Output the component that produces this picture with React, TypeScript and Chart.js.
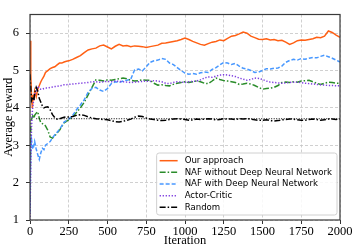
import React, { useEffect, useRef } from "react";
import { Chart, registerables } from "chart.js";
Chart.register(...registerables);

// x positions of the sampled points (iterations)
const iterations = [
  0, 5, 10, 15, 20, 25, 30,
  40, 50, 60, 70, 80, 90, 100,
  115, 130, 145, 160, 175, 190, 205, 220, 235, 250,
  275, 300, 325, 350, 375, 400, 425, 450, 475, 500,
  525, 550, 575, 600, 625, 650, 675, 700, 725, 750,
  775, 800, 825, 850, 875, 900, 925, 950, 975, 1000,
  1025, 1050, 1075, 1100, 1125, 1150, 1175, 1200, 1225, 1250,
  1275, 1300, 1325, 1350, 1375, 1400, 1425, 1450, 1475, 1500,
  1525, 1550, 1575, 1600, 1625, 1650, 1675, 1700, 1725, 1750,
  1775, 1800, 1825, 1850, 1875, 1900, 1925, 1950, 1975, 2000,
];

const ourApproach = [
  5.8, 4.9, 4.3, 4.0, 4.35, 4.2, 4.45,
  4.3, 4.5, 4.6, 4.7, 4.78, 4.85, 4.95,
  5.0, 5.05, 5.08, 5.1, 5.15, 5.2, 5.2, 5.23, 5.25, 5.26,
  5.3, 5.35, 5.4, 5.48, 5.55, 5.58, 5.6, 5.66, 5.68, 5.63,
  5.58, 5.65, 5.7, 5.66, 5.67, 5.64, 5.66, 5.65, 5.64, 5.62,
  5.64, 5.66, 5.68, 5.73, 5.74, 5.76, 5.78, 5.8, 5.83, 5.87,
  5.83, 5.78, 5.74, 5.7, 5.68, 5.72, 5.76, 5.78, 5.82, 5.8,
  5.86, 5.92, 5.94, 5.98, 6.03, 6.0, 5.92, 5.88, 5.84, 5.83,
  5.85, 5.82, 5.83, 5.8, 5.81, 5.76, 5.7, 5.74, 5.8, 5.82,
  5.81, 5.83, 5.85, 5.89, 5.88, 5.92, 6.06, 6.02, 5.95, 5.89,
];

const nafWithoutDnn = [
  1.5, 3.55, 3.7, 3.75, 3.82, 3.72, 3.8,
  3.86, 3.9, 3.72, 3.6, 3.58, 3.56, 3.52,
  3.4, 3.22, 3.19, 3.25, 3.33, 3.4, 3.5, 3.6, 3.64, 3.68,
  3.75, 3.88, 4.0, 4.15, 4.35, 4.55, 4.75, 4.74, 4.72, 4.75,
  4.74, 4.76, 4.78, 4.8, 4.78, 4.74, 4.72, 4.73, 4.75, 4.74,
  4.74, 4.66, 4.61, 4.62, 4.6, 4.59, 4.63, 4.66, 4.68, 4.7,
  4.68, 4.7, 4.72, 4.7, 4.66, 4.65, 4.72, 4.8, 4.76, 4.73,
  4.72, 4.7, 4.68, 4.63, 4.64, 4.66, 4.64, 4.6, 4.55, 4.5,
  4.52, 4.53, 4.55, 4.6, 4.68, 4.69, 4.68, 4.7, 4.69, 4.72,
  4.73, 4.74, 4.7, 4.66, 4.63, 4.66, 4.69, 4.68, 4.66, 4.66,
];

const nafWithDnn = [
  1.2, 3.0, 3.15, 2.95, 2.9, 3.0, 3.1,
  2.9, 2.75, 2.62, 2.8, 2.92, 2.88, 3.0,
  3.05, 3.1, 3.2, 3.28, 3.35, 3.42, 3.52, 3.62, 3.66, 3.7,
  3.8, 3.95, 4.08, 4.22, 4.42, 4.52, 4.55, 4.48, 4.44, 4.52,
  4.65, 4.7, 4.68, 4.72, 4.74, 4.77, 5.02, 5.04, 4.99, 5.1,
  5.22, 5.26, 5.28, 5.32, 5.3, 5.2, 5.16, 5.08, 5.0, 4.93,
  4.9, 4.92, 4.9, 4.94, 4.96, 4.95, 5.03, 5.08, 5.15, 5.22,
  5.2, 5.16, 5.19, 5.12, 5.06, 5.04, 5.0, 4.95, 4.96, 5.0,
  5.05, 5.04, 5.06, 5.07, 5.12, 5.22, 5.27, 5.3, 5.28, 5.32,
  5.3, 5.33, 5.35, 5.34, 5.38, 5.41, 5.37, 5.33, 5.28, 5.23,
];

const actorCritic = [
  1.0, 2.5, 3.5, 3.9, 4.1, 4.25, 4.35,
  4.46, 4.58, 4.52, 4.5, 4.5, 4.52, 4.53,
  4.53, 4.55, 4.56, 4.57, 4.58, 4.59, 4.6, 4.62, 4.62, 4.63,
  4.64, 4.65, 4.66, 4.67, 4.68, 4.7, 4.7, 4.69, 4.7, 4.71,
  4.7, 4.72, 4.71, 4.7, 4.69, 4.68, 4.69, 4.7, 4.71, 4.72,
  4.71, 4.73, 4.72, 4.7, 4.66, 4.65, 4.68, 4.7, 4.69, 4.68,
  4.7, 4.71, 4.72, 4.75, 4.8, 4.83, 4.82, 4.85, 4.88, 4.89,
  4.88, 4.86, 4.84, 4.8, 4.77, 4.74, 4.76, 4.8, 4.79, 4.76,
  4.72, 4.69, 4.68, 4.67, 4.66, 4.67, 4.68, 4.69, 4.69, 4.68,
  4.66, 4.65, 4.64, 4.63, 4.62, 4.61, 4.6, 4.6, 4.59, 4.59,
];

const randomPolicy = [
  4.9, 4.5, 4.2, 4.25, 4.3, 4.2, 4.4,
  4.55, 4.45, 4.25, 4.15, 4.05, 4.0, 4.02,
  4.03, 3.95, 3.82, 3.74, 3.7, 3.71, 3.73, 3.75, 3.76, 3.76,
  3.77, 3.8, 3.82, 3.8, 3.76, 3.73, 3.71, 3.7, 3.69, 3.68,
  3.66, 3.63, 3.62, 3.64, 3.67, 3.7, 3.75, 3.78, 3.77, 3.73,
  3.7, 3.69, 3.67, 3.66, 3.67, 3.69, 3.7, 3.71, 3.7, 3.69,
  3.67, 3.68, 3.7, 3.69, 3.7, 3.71, 3.7, 3.68, 3.69, 3.71,
  3.7, 3.7, 3.69, 3.71, 3.7, 3.71, 3.7, 3.68, 3.67, 3.67,
  3.68, 3.66, 3.65, 3.66, 3.68, 3.69, 3.7, 3.7, 3.68, 3.67,
  3.67, 3.69, 3.7, 3.69, 3.67, 3.68, 3.7, 3.7, 3.69, 3.7,
];

// horizontal dotted reference line of the random policy
const randomBaseline = 3.71;
const randomBaselineRange = [40, 2000];

const seriesLabels = [
  "Our approach",
  "NAF without Deep Neural Network",
  "NAF with Deep Neural Network",
  "Actor-Critic",
  "Random",
];

const xTicks = [0, 250, 500, 750, 1000, 1250, 1500, 1750, 2000];
const yTicks = [1, 2, 3, 4, 5, 6];

const SERIF = '"Liberation Serif", "Times New Roman", serif';
const SANS = '"DejaVu Sans", sans-serif';

const framePlugin = {
  id: "frame",
  afterDatasetsDraw(chart: any) {
    const { ctx, chartArea: a } = chart;
    ctx.save();
    ctx.strokeStyle = "#3a3a3a";
    ctx.lineWidth = 1.2;
    ctx.setLineDash([]);
    ctx.strokeRect(a.left, a.top, a.right - a.left, a.bottom - a.top);
    ctx.restore();
  },
};

const legendPlugin = {
  id: "boxLegend",
  afterDraw(chart: any) {
    const { ctx, chartArea: a } = chart;
    const items = chart.data.datasets.filter((d: any) => !d.hideInLegend);
    ctx.save();
    ctx.font = `8.6px ${SANS}`;
    const maxW = Math.max(...items.map((d: any) => ctx.measureText(d.label).width));
    const rowH = 11.65;
    const w = 28 + maxW + 5;
    const h = rowH * (items.length - 1) + 15.4;
    const x = a.right - 3 - w;
    const y = a.bottom - 5 - h;
    const r = 2.5;
    ctx.beginPath();
    ctx.moveTo(x + r, y);
    ctx.lineTo(x + w - r, y);
    ctx.quadraticCurveTo(x + w, y, x + w, y + r);
    ctx.lineTo(x + w, y + h - r);
    ctx.quadraticCurveTo(x + w, y + h, x + w - r, y + h);
    ctx.lineTo(x + r, y + h);
    ctx.quadraticCurveTo(x, y + h, x, y + h - r);
    ctx.lineTo(x, y + r);
    ctx.quadraticCurveTo(x, y, x + r, y);
    ctx.closePath();
    ctx.fillStyle = "rgba(255,255,255,0.85)";
    ctx.fill();
    ctx.strokeStyle = "#d0d0d0";
    ctx.lineWidth = 1;
    ctx.stroke();
    items.forEach((d: any, i: number) => {
      const cy = y + 7.7 + i * rowH;
      ctx.beginPath();
      ctx.strokeStyle = d.borderColor;
      ctx.lineWidth = d.borderWidth;
      ctx.setLineDash(d.borderDash || []);
      ctx.moveTo(x + 3, cy);
      ctx.lineTo(x + 21, cy);
      ctx.stroke();
      ctx.setLineDash([]);
      ctx.fillStyle = "#000";
      ctx.textBaseline = "middle";
      ctx.textAlign = "left";
      ctx.fillText(d.label, x + 28, cy);
    });
    ctx.restore();
  },
};

function toPoints(values: number[]) {
  return iterations.map((it, i) => ({ x: it, y: values[i] }));
}

export default function App() {
  const ref = useRef<HTMLCanvasElement>(null);
  useEffect(() => {
    document.body.style.margin = "0";
    const canvas = ref.current!;
    const tickFont = { family: SERIF, size: 12.5 };
    const common = { pointRadius: 0, tension: 0, fill: false, borderWidth: 1.5 };
    const chart = new Chart(canvas, {
      type: "line",
      data: {
        datasets: [
          { ...common, label: seriesLabels[0], data: toPoints(ourApproach), borderColor: "#ff6014", order: 6 },
          { ...common, label: seriesLabels[1], data: toPoints(nafWithoutDnn), borderColor: "#2a8c2a", borderDash: [6, 2, 1.5, 2], order: 5 },
          { ...common, label: seriesLabels[2], data: toPoints(nafWithDnn), borderColor: "#4898ff", borderDash: [4, 2], order: 4 },
          { ...common, label: seriesLabels[3], data: toPoints(actorCritic), borderColor: "#7f3fe0", borderDash: [1.3, 1.7], order: 3 },
          { ...common, label: seriesLabels[4], data: toPoints(randomPolicy), borderColor: "#000000", borderDash: [6, 2, 1.5, 2], order: 1 },
          {
            ...common,
            label: "Random (mean)",
            hideInLegend: true,
            data: randomBaselineRange.map((x) => ({ x, y: randomBaseline })),
            borderColor: "#000000",
            borderWidth: 1,
            borderDash: [1, 1.5],
            order: 2,
          } as any,
        ],
      },
      options: {
        animation: false,
        responsive: false,
        maintainAspectRatio: false,
        layout: { padding: { left: 0, right: 20, top: 5, bottom: 0 } },
        plugins: { legend: { display: false }, tooltip: { enabled: false } },
        scales: {
          x: {
            type: "linear",
            min: 0,
            max: 2000,
            afterBuildTicks: (s: any) => {
              s.ticks = xTicks.map((v) => ({ value: v }));
            },
            afterFit: (s: any) => {
              s.height = 29;
            },
            grid: { color: "#c4c4c4", lineWidth: 0.8, tickLength: 4, tickColor: "#333", tickWidth: 1, tickBorderDash: [] },
            border: { display: false, dash: [3, 2] },
            ticks: {
              font: tickFont,
              color: "#000",
              padding: 0,
              maxRotation: 0,
              autoSkip: false,
              callback: (v: any) => String(v),
            },
            title: { display: true, text: "Iteration", font: tickFont, color: "#000", padding: { top: 0, bottom: 1 } },
          },
          y: {
            type: "linear",
            min: 1,
            max: 6.5,
            afterBuildTicks: (s: any) => {
              s.ticks = yTicks.map((v) => ({ value: v }));
            },
            afterFit: (s: any) => {
              s.width = 30;
            },
            grid: { color: "#c4c4c4", lineWidth: 0.8, tickLength: 4, tickColor: "#333", tickWidth: 1, tickBorderDash: [] },
            border: { display: false, dash: [3, 2] },
            ticks: { font: tickFont, color: "#000", padding: 7, callback: (v: any) => String(v) },
            title: { display: true, text: "Average reward", font: tickFont, color: "#000", padding: { top: 1, bottom: 0 } },
          },
        },
      },
      plugins: [framePlugin, legendPlugin],
    } as any);
    return () => chart.destroy();
  }, []);
  return (
    <div style={{ width: 360, height: 249 }}>
      <canvas ref={ref} width={360} height={249} style={{ width: 360, height: 249, display: "block" }} />
    </div>
  );
}
